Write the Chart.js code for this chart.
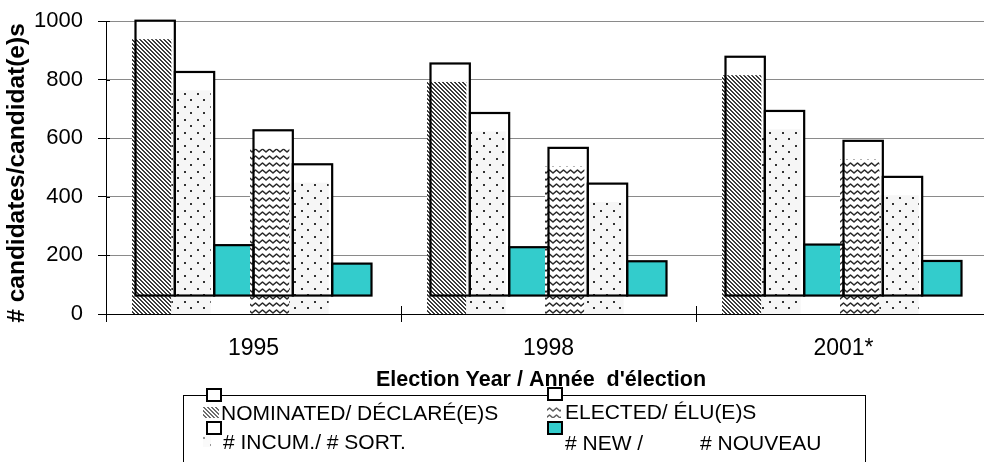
<!DOCTYPE html>
<html>
<head>
<meta charset="utf-8">
<script src="https://cdn.jsdelivr.net/npm/chart.js@4.4.0/dist/chart.umd.min.js"></script>
<style>
html,body{margin:0;padding:0;overflow:hidden;background:#fff;width:984px;height:462px}
#wrap{position:absolute;left:0;top:0;width:992px;height:462px}
canvas{display:block}
</style>
</head>
<body>
<div id="wrap"><canvas id="c" width="992" height="462" style="width:992px;height:462px"></canvas></div>
<script>
// ---- data ----
const years = ['1995', '1998', '2001*'];
const nominated      = [1001, 855, 878];
const incumNominated = [826, 686, 693];
const newNominated   = [235, 228, 237];
const elected        = [627, 567, 591];
const incumElected   = [511, 445, 468];
const newElected     = [172, 180, 181];
const yTickValues = [0, 200, 400, 600, 800, 1000];
const yTickLabels = ['0', '200', '400', '600', '800', '1000'];
const outlineBase = 63;   // the outlined bars start from this value in the picture

const legendNominated = 'NOMINATED/ DÉCLARÉ(E)S';
const legendElected   = 'ELECTED/ ÉLU(E)S';
const legendIncum     = '# INCUM./ # SORT.';
const legendNew1      = '# NEW /';
const legendNew2      = '# NOUVEAU';
const xTitle = "Election Year / Année  d'élection";
const yTitle = '# candidates/candidat(e)s';

const FONT = "'Liberation Sans', Arial, Helvetica, sans-serif";
const CYAN = '#33cccc';

// ---- patterns ----
function tile(w, h, draw) {
  const c = document.createElement('canvas');
  c.width = w; c.height = h;
  const g = c.getContext('2d');
  draw(g);
  return c;
}
const hatchTile = tile(4, 4, g => {
  g.fillStyle = '#ffffff'; g.fillRect(0, 0, 4, 4);
  g.fillStyle = '#3c3c3c';
  for (let r = 0; r < 4; r++) { g.fillRect(r, r, 1, 1); g.fillRect((r + 1) % 4, r, 1, 1); }
});
const dotTile = tile(13, 13, g => {
  g.fillStyle = '#f6f6f6'; g.fillRect(0, 0, 13, 13);
  g.fillStyle = '#333333';
  g.fillRect(2, 2, 2, 2);
  g.fillRect(8, 8, 2, 2);
});
const waveTile = tile(7, 7, g => {
  g.fillStyle = '#ffffff'; g.fillRect(0, 0, 7, 7);
  g.strokeStyle = '#2a2a2a'; g.lineWidth = 1.6; g.lineJoin = 'round';
  g.beginPath();
  g.moveTo(-3.5, 2); g.lineTo(0, 5); g.lineTo(3.5, 2); g.lineTo(7, 5); g.lineTo(10.5, 2);
  g.stroke();
});
const ctx0 = document.getElementById('c').getContext('2d');
const patterns = {
  hatch: ctx0.createPattern(hatchTile, 'repeat'),
  dots: ctx0.createPattern(dotTile, 'repeat'),
  wave: ctx0.createPattern(waveTile, 'repeat')
};

const series = [
  { label: legendNominated, data: nominated, pattern: 'hatch', fill: '#ffffff' },
  { label: legendIncum, data: incumNominated, pattern: 'dots', fill: '#ffffff' },
  { label: legendNew1, data: newNominated, pattern: null, fill: CYAN },
  { label: legendElected, data: elected, pattern: 'wave', fill: '#ffffff' },
  { label: legendIncum, data: incumElected, pattern: 'dots', fill: '#ffffff' },
  { label: legendNew1, data: newElected, pattern: null, fill: CYAN }
];

const overlay = {
  id: 'overlay',
  afterDatasetsDraw(chart) {
    const { ctx, chartArea } = chart;
    const ys = chart.scales.y;
    const drop = ys.getPixelForValue(0) - ys.getPixelForValue(outlineBase);
    const shiftLeft = 3.5;
    ctx.save();
    ctx.beginPath();
    ctx.rect(chartArea.left, chartArea.top - 5, chartArea.right - chartArea.left, chartArea.bottom - chartArea.top + 5);
    ctx.clip();
    series.forEach((s, i) => {
      if (!s.pattern) return;
      chart.getDatasetMeta(i).data.forEach(bar => {
        const p = bar.getProps(['x', 'y', 'base', 'width'], true);
        ctx.fillStyle = patterns[s.pattern];
        ctx.fillRect(p.x - p.width / 2 - shiftLeft, p.y + drop, p.width, p.base - p.y);
      });
    });
    ctx.restore();
    ctx.save();
    ctx.strokeStyle = '#000';
    ctx.lineWidth = 2.2;
    series.forEach((s, i) => {
      chart.getDatasetMeta(i).data.forEach(bar => {
        const p = bar.getProps(['x', 'y', 'base', 'width'], true);
        ctx.strokeRect(p.x - p.width / 2, p.y, p.width, p.base - p.y);
      });
    });
    ctx.restore();
  },
  afterDraw(chart) {
    const { ctx, chartArea } = chart;
    const xs = chart.scales.x, ys = chart.scales.y;
    ctx.save();
    // inner halves of the tick marks
    ctx.strokeStyle = '#000'; ctx.lineWidth = 1;
    for (let i = 0; i < years.length - 1; i++) {
      const bx = Math.round((xs.getPixelForTick(i) + xs.getPixelForTick(i + 1)) / 2) + 0.5;
      ctx.beginPath(); ctx.moveTo(bx, chartArea.bottom); ctx.lineTo(bx, chartArea.bottom - 8); ctx.stroke();
    }
    yTickValues.forEach(v => {
      const py = Math.round(ys.getPixelForValue(v)) + 0.5;
      ctx.beginPath(); ctx.moveTo(chartArea.left, py); ctx.lineTo(chartArea.left + 4, py); ctx.stroke();
    });
    // axis titles
    ctx.fillStyle = '#000';
    ctx.font = 'bold 21.5px ' + FONT;
    ctx.textAlign = 'center'; ctx.textBaseline = 'middle';
    ctx.fillText(xTitle, 541, 380);
    ctx.save();
    ctx.translate(17, 173);
    ctx.rotate(-Math.PI / 2);
    ctx.font = 'bold 24.5px ' + FONT;
    ctx.fillText(yTitle, 0, 0);
    ctx.restore();
    // legend box
    ctx.strokeStyle = '#000'; ctx.lineWidth = 1;
    ctx.strokeRect(183.5, 395.5, 682, 90);
    function square(x, y, fill) {
      ctx.fillStyle = fill; ctx.fillRect(x, y, 14, 12);
      ctx.strokeStyle = '#000'; ctx.lineWidth = 2; ctx.strokeRect(x, y, 14, 12);
    }
    square(207, 389, '#ffffff');
    square(207, 422, '#ffffff');
    square(548, 388, '#ffffff');
    square(548, 422, CYAN);
    ctx.globalAlpha = 0.75;
    ctx.fillStyle = patterns.hatch; ctx.fillRect(203, 407, 16, 11);
    ctx.fillStyle = patterns.wave; ctx.fillRect(547, 406, 14, 12);
    ctx.globalAlpha = 0.5;
    ctx.fillStyle = patterns.dots; ctx.fillRect(203, 436, 8, 11);
    ctx.globalAlpha = 1;
    ctx.fillStyle = '#000';
    ctx.font = '21px ' + FONT;
    ctx.textAlign = 'left'; ctx.textBaseline = 'middle';
    ctx.fillText(legendNominated, 221, 414);
    ctx.fillText(legendElected, 565, 413);
    ctx.fillText(legendIncum, 223, 443);
    ctx.fillText(legendNew1, 565, 444);
    ctx.fillText(legendNew2, 700, 444);
    ctx.restore();
  }
};

new Chart(document.getElementById('c'), {
  type: 'bar',
  data: {
    labels: years,
    datasets: series.map(s => ({
      label: s.label,
      data: s.data,
      base: outlineBase,
      backgroundColor: s.fill,
      borderWidth: 0,
      categoryPercentage: 0.8,
      barPercentage: 1.0
    }))
  },
  options: {
    responsive: false,
    animation: false,
    devicePixelRatio: 1,
    layout: { padding: { left: 0, right: 1, top: 21, bottom: 0 } },
    plugins: { legend: { display: false }, title: { display: false }, tooltip: { enabled: false } },
    scales: {
      x: {
        type: 'category',
        offset: true,
        grid: { display: true, drawOnChartArea: false, offset: true, tickLength: 8, color: '#000', tickColor: '#000' },
        border: { display: true, color: '#000', width: 1 },
        ticks: { color: '#000', font: { family: FONT, size: 23 }, padding: 13, maxRotation: 0 },
        afterFit: s => { s.height = 148; s.paddingLeft = 0; s.paddingRight = 0; }
      },
      y: {
        min: 0, max: 1000,
        afterBuildTicks: s => { s.ticks = yTickValues.map(v => ({ value: v })); },
        grid: { color: '#8a8a8a', lineWidth: 1, tickLength: 8, tickColor: '#000' },
        border: { display: true, color: '#000', width: 1 },
        ticks: {
          color: '#000', font: { family: FONT, size: 22 }, padding: 15,
          callback: v => yTickLabels[yTickValues.indexOf(v)]
        },
        afterFit: s => { s.width = 106; s.paddingTop = 0; s.paddingBottom = 0; }
      }
    }
  },
  plugins: [overlay]
});
</script>
</body>
</html>
